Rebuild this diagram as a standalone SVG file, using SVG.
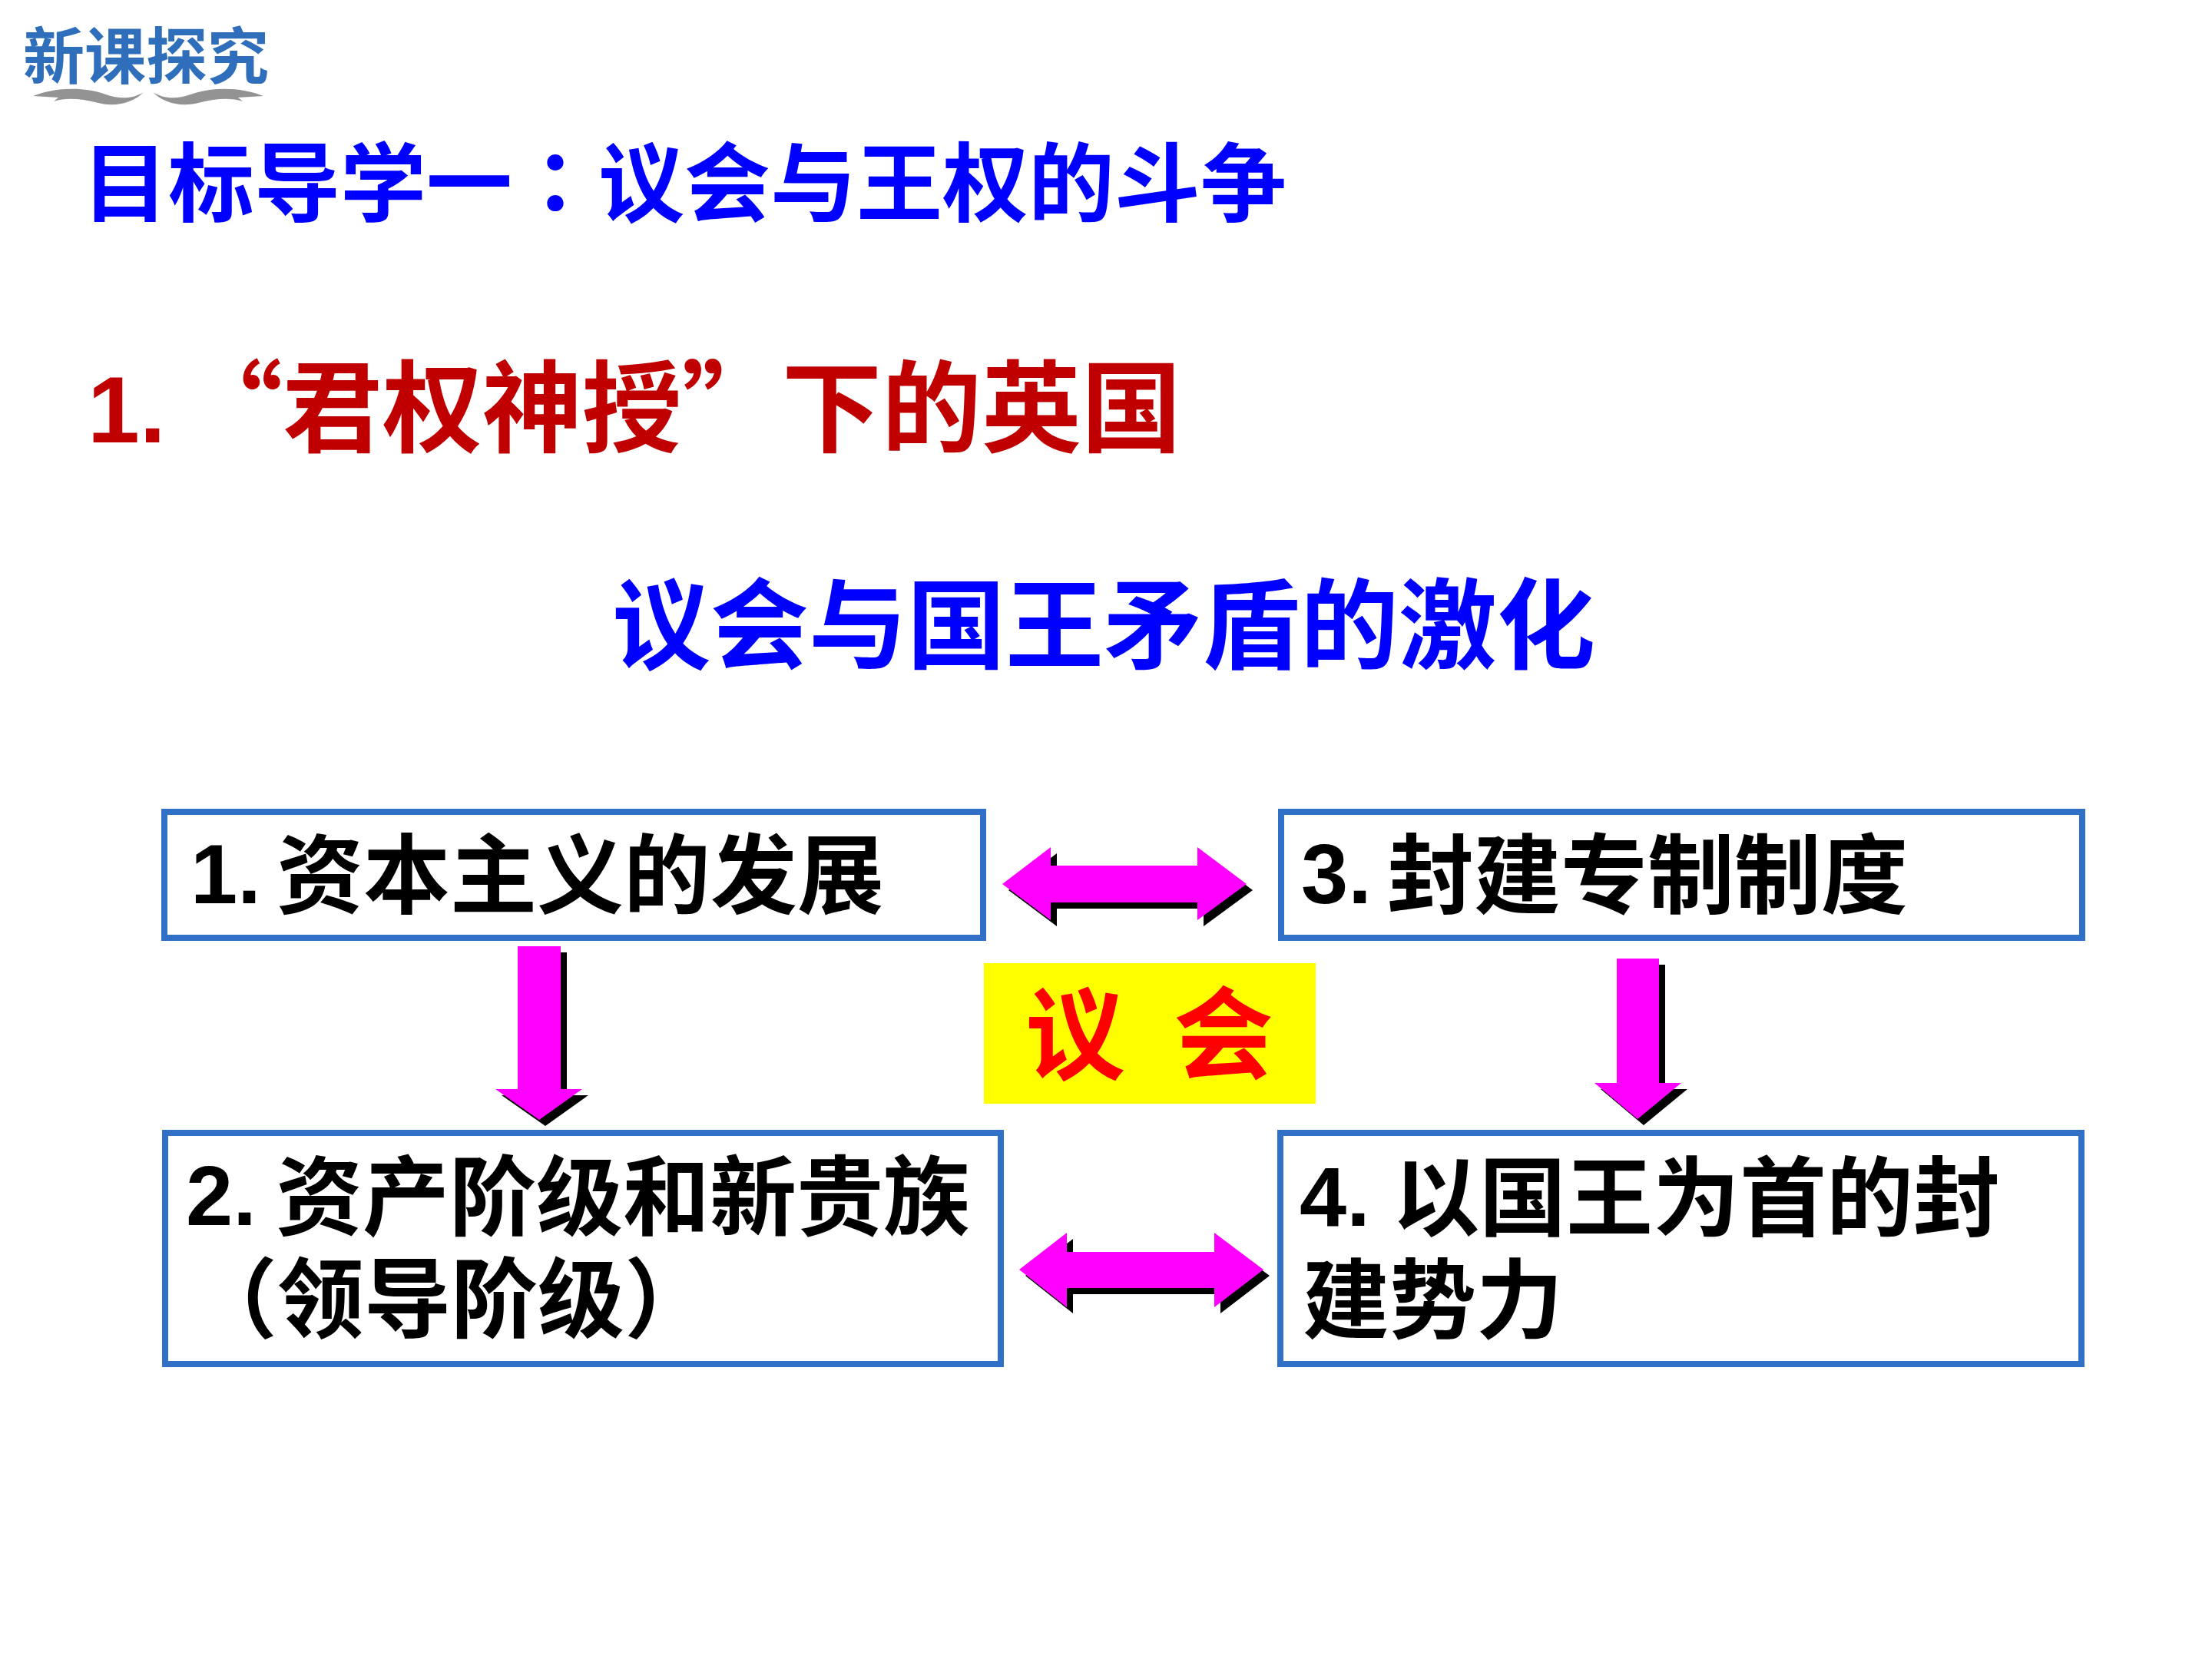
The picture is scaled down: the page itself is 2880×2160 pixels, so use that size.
<svg xmlns="http://www.w3.org/2000/svg" xmlns:xlink="http://www.w3.org/1999/xlink" width="2880" height="2160" viewBox="0 0 2880 2160">
<style>
.cjk{font-family:"Noto Sans CJK SC","Noto Sans",sans-serif;font-weight:700}
.num{font-family:"Liberation Sans Narrow","Liberation Sans",Arial,sans-serif;font-weight:700}
.box{fill:#FFFFFF;stroke:#3070C6;stroke-width:8}
.bt{font-size:113px;fill:#000000}
.bn{font-size:110px;fill:#000000}
.mag{fill:#FF00FF}
.shd{fill:#000000}
</style>
<defs>
<polygon id="dblTop" points="1305,1151 1368,1103 1368,1127 1559,1127 1559,1103 1623,1151 1559,1198 1559,1175 1368,1175 1368,1198"/>
<polygon id="dblBot" points="1327,1653 1389,1605 1389,1630 1581,1630 1581,1605 1645,1653 1581,1702 1581,1677 1389,1677 1389,1702"/>
<polygon id="downL" points="674,1232 730,1232 730,1418 758,1418 702,1458 645,1418 674,1418"/>
<polygon id="downR" points="2105,1248 2160,1248 2160,1410 2189,1410 2132,1457 2076,1410 2105,1410"/>
<path id="swoosh" d="M43,125 C70,114 108,112 138,123 C158,130 174,128 187,120 C174,133 152,140 128,134 C104,128 86,127 70,132 L76,127 Z"/>
</defs>
<rect x="0" y="0" width="2880" height="2160" fill="#FFFFFF"/>

<g id="logo">
<text class="cjk" x="30" y="102" font-size="80" font-weight="900" fill="#2F6EBA">新课探究</text>
<use xlink:href="#swoosh" fill="#808080" opacity="0.85"/>
<use xlink:href="#swoosh" fill="#808080" opacity="0.85" transform="translate(386,0) scale(-1,1)"/>
</g>

<g id="titles">
<text class="cjk" x="107" y="280" font-size="112" font-weight="900" fill="#0000FF">目标导学一<tspan font-family="'Noto Sans CJK JP','Noto Sans CJK SC',sans-serif">：</tspan>议会与王权的斗争</text>
<text class="num" x="114" y="576" font-size="122" fill="#C00000">1.</text>
<text class="cjk" x="238" y="578" font-size="130" fill="#C00000">“君权神授”下的英国</text>
<text class="cjk" x="1437" y="861" font-size="128" font-weight="900" fill="#0000FF" text-anchor="middle">议会与国王矛盾的激化</text>
</g>

<g id="connectors">
<use xlink:href="#dblTop" class="shd" transform="translate(8,8)"/>
<use xlink:href="#dblTop" class="mag"/>
<use xlink:href="#dblBot" class="shd" transform="translate(8,8)"/>
<use xlink:href="#dblBot" class="mag"/>
<use xlink:href="#downL" class="shd" transform="translate(8,8)"/>
<use xlink:href="#downL" class="mag"/>
<use xlink:href="#downR" class="shd" transform="translate(8,8)"/>
<use xlink:href="#downR" class="mag"/>
</g>

<g id="node1">
<rect class="box" x="214" y="1057" width="1066" height="164"/>
<text class="num bn" x="248" y="1176">1.</text>
<text class="cjk bt" x="360" y="1180">资本主义的发展</text>
</g>

<g id="node3">
<rect class="box" x="1668" y="1057" width="1043" height="164"/>
<text class="num bn" x="1694" y="1176">3.</text>
<text class="cjk bt" x="1806" y="1180">封建专制制度</text>
</g>

<g id="node2">
<rect class="box" x="215" y="1475" width="1088" height="301"/>
<text class="num bn" x="242" y="1595">2.</text>
<text class="cjk bt" x="359" y="1599">资产阶级和新贵族</text>
<text class="cjk bt" x="248" y="1732">（领导阶级）</text>
</g>

<g id="node4">
<rect class="box" x="1667" y="1475" width="1043" height="301"/>
<text class="num bn" x="1692" y="1596">4.</text>
<text class="cjk bt" x="1813" y="1600">以国王为首的封</text>
<text class="cjk bt" x="1696" y="1733">建势力</text>
</g>

<g id="parliament">
<rect x="1281" y="1254" width="432" height="183" fill="#FFFF00"/>
<text class="cjk" x="1335" y="1394" font-size="130" fill="#FF0000">议<tspan x="1528">会</tspan></text>
</g>
</svg>
